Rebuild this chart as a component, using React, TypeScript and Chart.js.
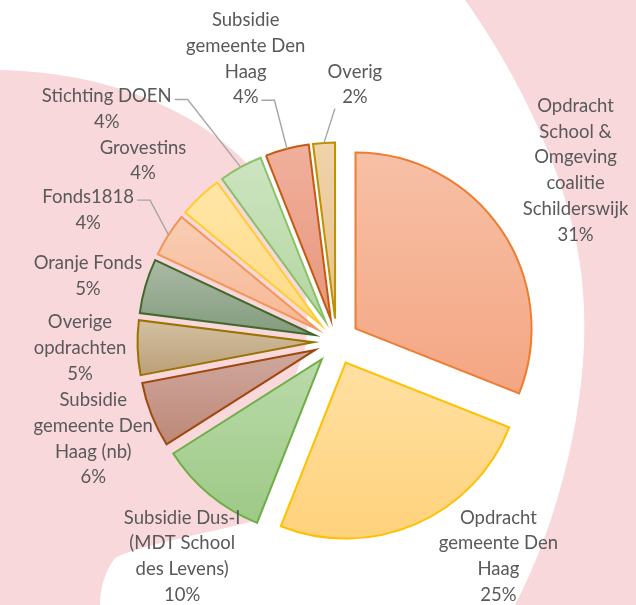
import React, { useEffect, useRef } from 'react';
import { Chart, registerables, ArcElement, PieController } from 'chart.js';

// ---------- data ----------
const categories: string[][] = [
  ['Opdracht', 'School &', 'Omgeving', 'coalitie', 'Schilderswijk'],
  ['Opdracht', 'gemeente Den', 'Haag'],
  ['Subsidie Dus-I', '(MDT School', 'des Levens)'],
  ['Subsidie', 'gemeente Den', 'Haag (nb)'],
  ['Overige', 'opdrachten'],
  ['Oranje Fonds'],
  ['Fonds1818'],
  ['Grovestins'],
  ['Stichting DOEN'],
  ['Subsidie', 'gemeente Den', 'Haag'],
  ['Overig'],
];
const values: number[] = [31, 25, 10, 6, 5, 5, 4, 4, 4, 4, 2];

// ---------- styles ----------
const fillTop = ['#F7C0A6', '#FFE0A2', '#BADAAA', '#D0A89E', '#D3C0A0', '#AABAA6', '#F9CEB4', '#FFE6A8', '#CDE4C1', '#F0B09C', '#F0D3AA'];
const fillBottom = ['#F4A683', '#FFD27C', '#9DC986', '#BD8877', '#BBA078', '#839B7C', '#F6B795', '#FFDA86', '#B3D6A0', '#E8967C', '#E7C28C'];
const borderColors = ['#ED7D31', '#FFC000', '#70AD47', '#9E480E', '#997300', '#43682B', '#F1975A', '#FFCD33', '#8CC168', '#C55A11', '#BF9000'];
const labelDist = [294, 269, 264.5, 262, 256.6, 257, 281, 265, 326.6, 297, 257.5];
const labelShift = [-1.4, -13.6, -3.9, -0.2, 0.3, -1.5, -4.5, -3.7, -15.9, -3.4, 7.7];
const leaders: ({ from: string; line?: number } | null)[] = [
  null, null, null, null, null, null,
  { from: 'right', line: 0 }, null, { from: 'right', line: 0 }, { from: 'right', line: 3 }, { from: 'below' },
];
const EXPLODE = 23;
const RADIUS = 176;
const FONT = '18.5px Lato';
const LINE_H = 25.7;
const TEXT_COLOR = '#595959';
const PINK = 'rgb(249,216,219)';

class ExplodedArc extends ArcElement {
  static id = 'explodedArc';
  static defaults = { explode: 0, fillTop: '#fff', fillBottom: '#fff' };
  draw(ctx: CanvasRenderingContext2D) {
    const self: any = this;
    const o: any = self.options;
    const e = o.explode || 0;
    const mid = (self.startAngle + self.endAngle) / 2;
    let minY = self.y, maxY = self.y;
    for (let k = 0; k <= 32; k++) {
      const a = self.startAngle + (self.endAngle - self.startAngle) * k / 32;
      const yy = self.y + Math.sin(a) * self.outerRadius;
      minY = Math.min(minY, yy);
      maxY = Math.max(maxY, yy);
    }
    const g = ctx.createLinearGradient(0, minY, 0, maxY);
    g.addColorStop(0, o.fillTop);
    g.addColorStop(1, o.fillBottom);
    const saved = self.options;
    self.options = { ...saved, backgroundColor: g, offset: 0 };
    ctx.save();
    ctx.translate(Math.cos(mid) * e, Math.sin(mid) * e);
    super.draw(ctx);
    ctx.restore();
    self.options = saved;
  }
}

class ExplodedPieController extends PieController {
  static id = 'explodedPie';
  static defaults = { dataElementType: 'explodedArc' };
}

Chart.register(...registerables);
Chart.register(ExplodedArc as any, ExplodedPieController as any);

const bgPlugin = {
  id: 'bgShapes',
  beforeDraw(chart: any) {
    const ctx = chart.ctx;
    ctx.save();
    ctx.fillStyle = '#ffffff';
    ctx.fillRect(0, 0, chart.width, chart.height);
    ctx.fillStyle = PINK;
    // left shape
    ctx.beginPath();
    ctx.moveTo(0, 70);
    ctx.bezierCurveTo(100, 72, 200, 105, 262, 180);
    ctx.bezierCurveTo(300, 235, 312, 300, 306, 345);
    ctx.bezierCurveTo(290, 400, 260, 440, 245, 480);
    ctx.bezierCurveTo(240, 500, 255, 512, 258, 520);
    ctx.bezierCurveTo(200, 535, 140, 545, 115, 558);
    ctx.bezierCurveTo(104, 572, 100, 590, 100, 605);
    ctx.lineTo(0, 605);
    ctx.closePath();
    ctx.fill();
    // right shape
    ctx.beginPath();
    ctx.moveTo(465, 0);
    ctx.bezierCurveTo(522, 80, 582, 200, 584, 309);
    ctx.bezierCurveTo(588, 400, 560, 520, 515, 605);
    ctx.lineTo(636, 605);
    ctx.lineTo(636, 0);
    ctx.closePath();
    ctx.fill();
    ctx.restore();
  },
};

const labelPlugin = {
  id: 'sliceLabels',
  afterDatasetsDraw(chart: any) {
    const ctx: CanvasRenderingContext2D = chart.ctx;
    const meta = chart.getDatasetMeta(0);
    const total = values.reduce((a, b) => a + b, 0);
    ctx.save();
    ctx.font = FONT;
    ctx.textAlign = 'center';
    ctx.textBaseline = 'middle';
    meta.data.forEach((arc: any, i: number) => {
      const { x, y, startAngle, endAngle, outerRadius } = arc;
      const mid = (startAngle + endAngle) / 2;
      const a = mid + (labelShift[i] * Math.PI) / 180;
      const cx = x + Math.cos(a) * labelDist[i];
      const cy = y + Math.sin(a) * labelDist[i];
      const lines = [...categories[i], Math.round((values[i] / total) * 100) + '%'];
      const top = cy - ((lines.length - 1) * LINE_H) / 2;
      ctx.fillStyle = TEXT_COLOR;
      lines.forEach((t, k) => ctx.fillText(t, cx, top + k * LINE_H));
      const ld = leaders[i];
      if (ld) {
        const ex = x + Math.cos(mid) * (EXPLODE + outerRadius);
        const ey = y + Math.sin(mid) * (EXPLODE + outerRadius);
        ctx.strokeStyle = '#A6A6A6';
        ctx.lineWidth = 1.4;
        ctx.beginPath();
        if (ld.from === 'right') {
          const li = ld.line || 0;
          const w = ctx.measureText(lines[li]).width;
          const sx = cx + w / 2 + 3;
          const sy = top + li * LINE_H + 3;
          ctx.moveTo(sx, sy);
          ctx.lineTo(sx + 13, sy);
          ctx.lineTo(ex, ey);
        } else {
          const sy = top + (lines.length - 1) * LINE_H + 11;
          ctx.moveTo(cx - 20, sy);
          ctx.lineTo(ex, ey);
        }
        ctx.stroke();
      }
    });
    ctx.restore();
  },
};

export default function App() {
  const ref = useRef<HTMLCanvasElement>(null);
  useEffect(() => {
    const chart = new Chart(ref.current as HTMLCanvasElement, {
      type: 'explodedPie' as any,
      data: {
        labels: categories.map((c) => c.join(' ')),
        datasets: [
          {
            data: values,
            explode: EXPLODE,
            fillTop,
            fillBottom,
            backgroundColor: fillBottom,
            borderColor: borderColors,
            borderWidth: 2,
            borderJoinStyle: 'miter',
            radius: RADIUS,
          } as any,
        ],
      },
      options: {
        responsive: false,
        animation: false,
        events: [],
        layout: { padding: { left: 37, top: 78, right: 0, bottom: 0 } },
        plugins: { legend: { display: false }, tooltip: { enabled: false } },
      } as any,
      plugins: [bgPlugin, labelPlugin],
    });
    return () => chart.destroy();
  }, []);
  return (
    <div style={{ position: 'absolute', left: 0, top: 0, width: 636, height: 605, background: '#fff' }}>
      <canvas ref={ref} width={636} height={605} style={{ display: 'block' }} />
    </div>
  );
}
